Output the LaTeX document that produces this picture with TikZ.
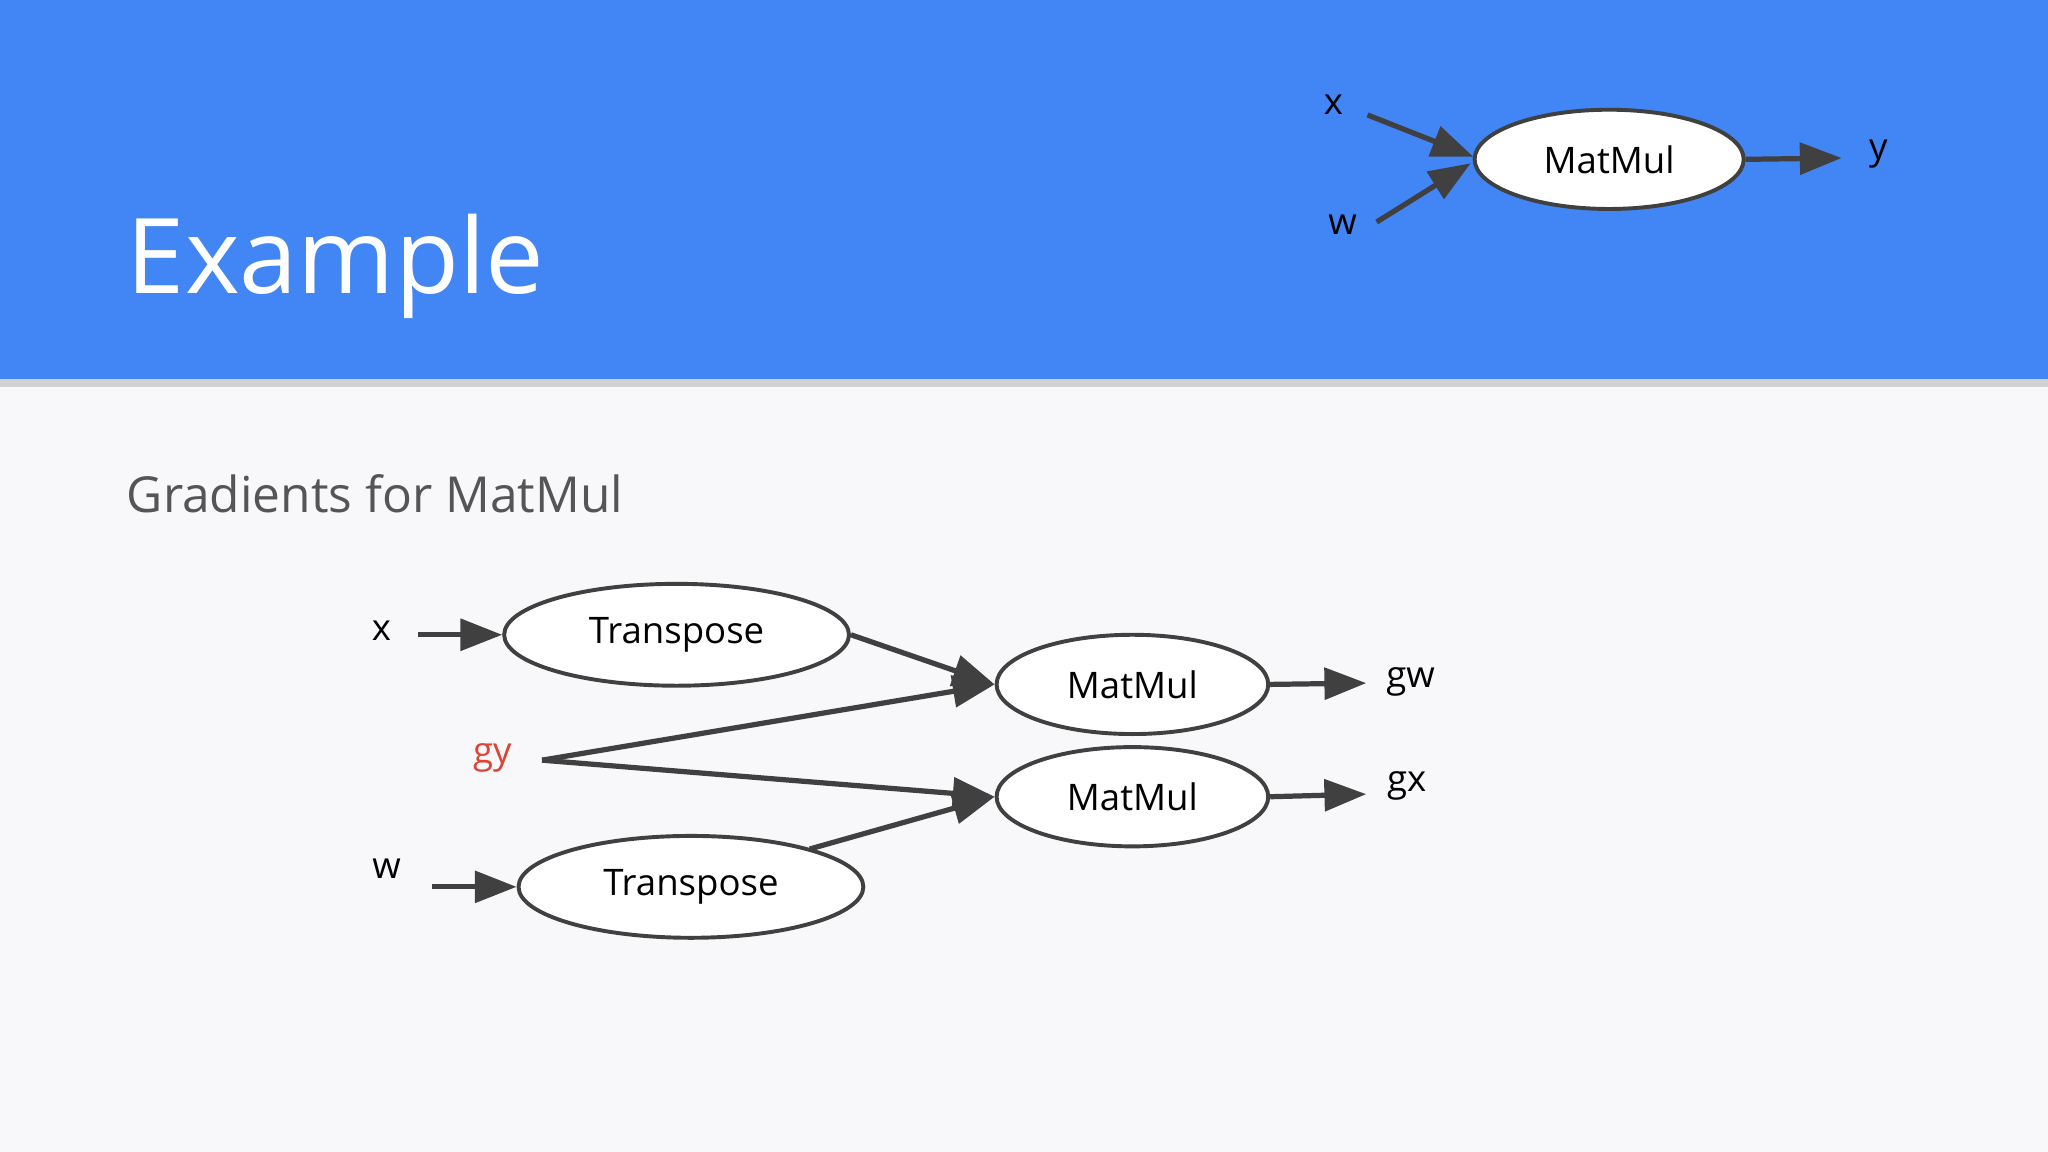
\documentclass[tikz,border=0pt]{standalone}
\usepackage{fontspec}
\setmainfont{Open Sans}
\usetikzlibrary{arrows.meta,shapes.geometric}
\definecolor{hdr}{HTML}{4285F4}
\definecolor{bg}{HTML}{F8F8FA}
\definecolor{ink}{HTML}{404040}
\definecolor{txt}{HTML}{555555}
\definecolor{red}{HTML}{DB4437}
\tikzset{
 op/.style={draw=ink,line width=3pt,ellipse,fill=white,minimum width=#1,minimum height=76pt,inner sep=0pt,font=\fontsize{28}{32}\selectfont,text=black},
 lbl/.style={font=\fontsize{28}{32}\selectfont,text=black,inner sep=0pt},
 conn/.style={draw=ink,line width=4pt,-{Triangle[length=32pt,width=24pt]}},
 plain/.style={draw=ink,line width=4pt}
}
\begin{document}
\begin{tikzpicture}[x=1pt,y=-1pt]
\useasboundingbox (0,0) rectangle (1568,882);
\fill[bg] (0,0) rectangle (1568,882);
\fill[black!18] (0,290) rectangle (1568,296);
\fill[hdr] (0,0) rectangle (1568,290);
\node[anchor=base west,text=white,font=\fontsize{80}{90}\selectfont,inner sep=0pt] (title) at (97,225) {Example};
% top graph
\node[op=206pt] (mm0) at (1232,122) {MatMul};
\node[lbl] (x0) at (1021,80) {x};
\node[lbl] (w0) at (1028,172) {w};
\node[lbl] (y0) at (1438,118) {y};
\coordinate (x0s) at (1047,88);
\coordinate (w0s) at (1054,170);
\coordinate (y0e) at (1410,121);
\draw[conn] (x0s) -- (1128,120);
\draw[conn] (w0s) -- (1126,125);
\draw[conn] (mm0.east) -- (y0e);
% subtitle
\node[anchor=base west,text=txt,font=\fontsize{38}{44}\selectfont,inner sep=0pt] (sub) at (97,392) {Gradients for MatMul};
% bottom graph
\node[op=264pt,minimum height=78pt] (t1) at (518,486) {Transpose};
\node[op=264pt,minimum height=78pt] (t2) at (529,679) {Transpose};
\node[op=208pt] (m1) at (867,524) {MatMul};
\node[op=208pt] (m2) at (867,610) {MatMul};
\node[lbl] (x) at (292,483) {x};
\node[lbl] (w) at (296,665) {w};
\node[lbl,text=red] (gy) at (377,580) {gy};
\node[lbl] (gw) at (1080,522) {gw};
\node[lbl] (gx) at (1077,602) {gx};
\coordinate (xs) at (320,486);
\coordinate (ws) at (331,679);
\coordinate (gys) at (415,582);
\coordinate (gwe) at (1046,523);
\coordinate (gxe) at (1046,608);
\draw[conn] (xs) -- (t1.west);
\draw[conn] (ws) -- (t2.west);
\draw[conn] (t1.east) -- (m1.west);
\draw[conn] (gys) -- (m1.west);
\draw[conn] (gys) -- (m2.west);
\draw[conn] (620,650) -- (m2.west);
\draw[conn] (m1.east) -- (gwe);
\draw[conn] (m2.east) -- (gxe);
\end{tikzpicture}
\end{document}
